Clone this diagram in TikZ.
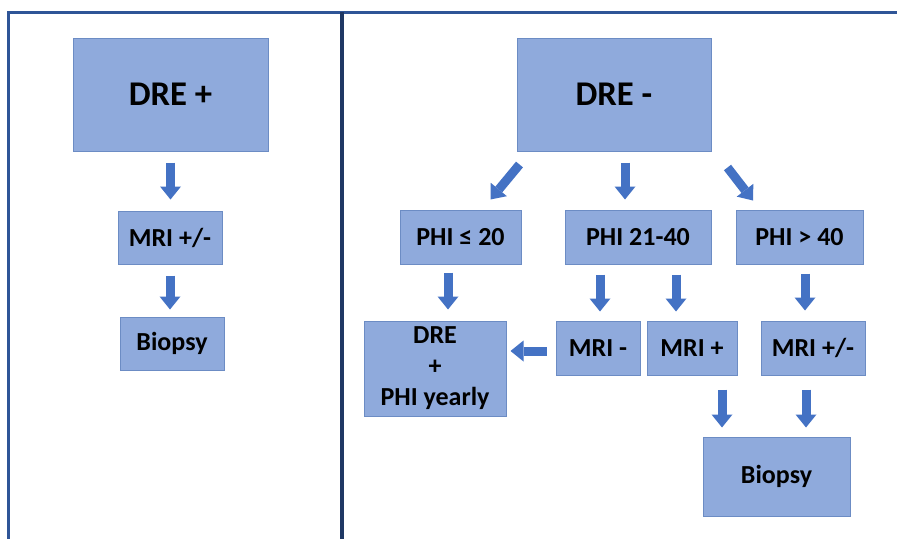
\documentclass[tikz,border=0pt]{standalone}
\usepackage{fontspec}
\setmainfont{Carlito}
\usetikzlibrary{arrows.meta,calc}

\definecolor{boxfill}{RGB}{143,170,220}
\definecolor{boxline}{RGB}{108,140,196}
\definecolor{arrowblue}{RGB}{68,114,196}
\definecolor{frameblue}{RGB}{47,85,151}
\definecolor{dividerblue}{RGB}{31,56,100}

\tikzset{
  box/.style={draw=boxline, fill=boxfill, line width=0.75pt, inner sep=0pt, align=center,
    font=\bfseries\fontsize{19.5}{23.25}\selectfont},
  bigbox/.style={box, font=\bfseries\fontsize{26}{30}\selectfont},
  bw/.style={minimum width=#1*0.75pt},
  bh/.style={minimum height=#1*0.75pt},
  blockarrow/.style={draw=arrowblue, line width=6.75pt, -{Triangle[width=15.75pt,length=9.75pt,line width=0pt]}},
}

\begin{document}
\begin{tikzpicture}[x=0.75pt,y=0.75pt,yscale=-1,xscale=1]
        \useasboundingbox (0,0) rectangle (897,539);

        %Frame and divider
        \draw [line width=2.25pt, frameblue] (8,539) -- (8,12) -- (897,12) ;
        \draw [line width=3pt, dividerblue] (342,12) -- (342,539) ;

        %Left column
        \node [bigbox, bw=195, bh=113] (dreP) at (170.5,94.5) {DRE +};
        \node [box, bw=104, bh=53] (mriL) at (170,237.5) {MRI +/-};
        \node [box, bw=104, bh=53] (biopL) at (172,343.5) {Biopsy};

        %Right column
        \node [bigbox, bw=194, bh=113] (dreM) at (614,94.5) {DRE -};
        \node [box, bw=121, bh=54] (phiA) at (460.5,237) {PHI ≤ 20};
        \node [box, bw=146, bh=54] (phiB) at (638,237) {PHI 21-40};
        \node [box, bw=127, bh=54] (phiC) at (799.5,237) {PHI > 40};
        \node [box, bw=142, bh=95] (dreY) at (435,368.5) {DRE\\+\\PHI yearly};
        \node [box, bw=84, bh=54] (mriN) at (598,348) {MRI -};
        \node [box, bw=90, bh=54] (mriP) at (692,348) {MRI +};
        \node [box, bw=104, bh=54] (mriR) at (813,348) {MRI +/-};
        \node [box, bw=147, bh=79] (biopR) at (776.5,476.5) {Biopsy};

        %Block arrows, left column
        \draw [blockarrow] ($(dreP.south)+(0,11)$) -- ($(dreP.south |- mriL.north)+(0,-11)$) ;
        \draw [blockarrow] ($(mriL.south)+(0,11)$) -- ($(mriL.south |- biopL.north)+(0,-7)$) ;

        %Block arrows, right column
        \draw [blockarrow] ($(dreM.south west)+(3,13)$) -- ($(phiA.north)+(30,-10)$) ;
        \draw [blockarrow] ($(dreM.south)+(11,11)$) -- ($(phiB.north)+(-13,-10)$) ;
        \draw [blockarrow] ($(dreM.south east)+(16,16)$) -- ($(phiC.north)+(-46.5,-9)$) ;
        \draw [blockarrow] ($(phiA.south)+(-12.5,8)$) -- ($(dreY.north)+(13,-11)$) ;
        \draw [blockarrow] ($(mriN.north |- phiB.south)+(2,10)$) -- ($(mriN.north)+(2,-9)$) ;
        \draw [blockarrow] ($(mriP.north |- phiB.south)+(-16,10)$) -- ($(mriP.north)+(-16,-9)$) ;
        \draw [blockarrow] ($(mriR.north |- phiC.south)+(-8,9)$) -- ($(mriR.north)+(-8,-10)$) ;
        \draw [blockarrow] ($(mriN.west)+(-9,3)$) -- ($(dreY.east |- mriN.west)+(4,3)$) ;
        \draw [blockarrow] ($(mriP.south)+(30,14)$) -- ($(biopR.north)+(-54.5,-9)$) ;
        \draw [blockarrow] ($(mriR.south)+(-7,14)$) -- ($(biopR.north)+(29.5,-9)$) ;
\end{tikzpicture}
\end{document}
